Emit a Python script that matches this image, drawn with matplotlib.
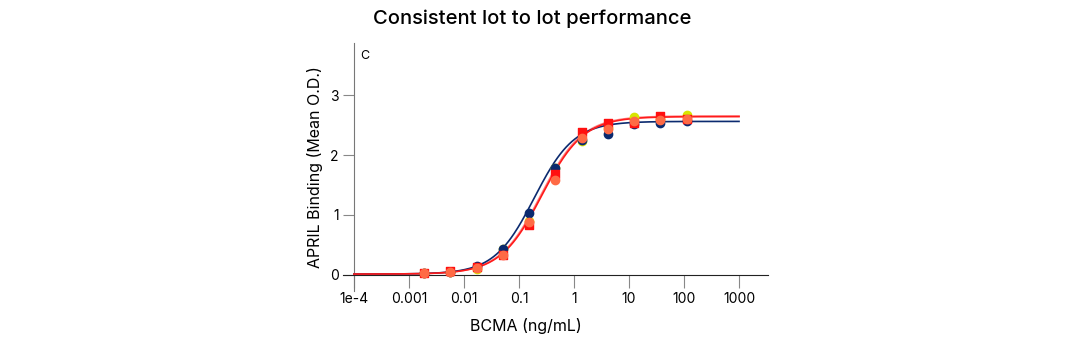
import numpy as np
import matplotlib.pyplot as plt

plt.rcParams["font.family"] = ["Inter", "DejaVu Sans"]

# 3-fold dilution series of BCMA (ng/mL)
conc = [0.00188, 0.00565, 0.0169, 0.0508, 0.152, 0.457, 1.372, 4.115, 12.35, 37.04, 111.1]

# Mean O.D. per lot
lot_navy = [0.03, 0.05, 0.155, 0.43, 1.04, 1.79, 2.25, 2.35, 2.52, 2.54, 2.56]
lot_yellow = [0.04, 0.05, 0.10, 0.44, 0.90, 1.79, 2.23, 2.45, 2.63, 2.60, 2.66]
lot_red = [0.03, 0.06, 0.13, 0.34, 0.83, 1.69, 2.38, 2.54, 2.54, 2.65, 2.60]
lot_salmon = [0.03, 0.05, 0.12, 0.33, 0.88, 1.59, 2.28, 2.44, 2.57, 2.58, 2.60]

# 4PL fit parameters: bottom, top, EC50, hill
fit_navy = (0.015, 2.56, 0.19, 1.2)
fit_red = (0.015, 2.64, 0.26, 1.15)
fit_salmon = (0.015, 2.65, 0.25, 1.15)


def four_pl(x, p):
    bottom, top, ec50, hill = p
    return bottom + (top - bottom) / (1 + (ec50 / x) ** hill)


fig = plt.figure(figsize=(10.68, 3.38), dpi=100)
ax = fig.add_axes([343 / 1068, 47 / 338, 425 / 1068, 248 / 338])

xs = np.logspace(-4, 3, 400)
ax.plot(xs, four_pl(xs, fit_salmon), color="#ff8080", lw=1.2, zorder=2)
ax.plot(xs, four_pl(xs, fit_navy), color="#0b2a6f", lw=1.2, zorder=3)
ax.plot(xs, four_pl(xs, fit_red), color="#ff1a1a", lw=1.2, zorder=3)

ax.scatter(conc, lot_yellow, s=36, color="#d7e600", zorder=4)
ax.scatter(conc, lot_navy, s=36, color="#0b2a6f", zorder=5)
ax.scatter(conc, lot_red, s=30, marker="s", color="#ff1010", zorder=6)
ax.scatter(conc, lot_salmon, s=36, color="#ff6a45", zorder=7)

ax.set_xscale("log")
ax.set_xlim(10 ** -4.2, 10 ** 3.527)
ax.set_ylim(-0.267, 3.867)

xticks = [1e-4, 1e-3, 1e-2, 1e-1, 1, 10, 100, 1000]
xtick_labels = ["1e-4", "0.001", "0.01", "0.1", "1", "10", "100", "1000"]
ax.set_xticks(xticks)
ax.set_xticklabels(xtick_labels)
ax.minorticks_off()
ax.set_yticks([0, 1, 2, 3])

for s in ["top", "right"]:
    ax.spines[s].set_visible(False)
ax.spines["left"].set_position(("data", 1e-4))
ax.spines["bottom"].set_position(("data", 0))
ax.spines["left"].set_color("#777777")
ax.spines["bottom"].set_color("#222222")
ax.tick_params(axis="x", direction="out", length=9, color="#888888", labelsize=10, pad=3)
ax.tick_params(axis="y", direction="out", length=8, color="#888888", labelsize=10, pad=3)

ax.set_xlabel("BCMA (ng/mL)", fontsize=11.5)
ax.xaxis.set_label_coords(0.43, -0.11)
ax.set_ylabel("APRIL Binding (Mean O.D.)", fontsize=11.5)
ax.yaxis.set_label_coords(-0.047, 0.5)

ax.text(1.3e-4, 3.6, "C", fontsize=9)
fig.text(0.498, 0.945, "Consistent lot to lot performance", ha="center", va="center",
         fontsize=14.5, fontweight="medium")

fig.savefig("out.png", dpi=100)
